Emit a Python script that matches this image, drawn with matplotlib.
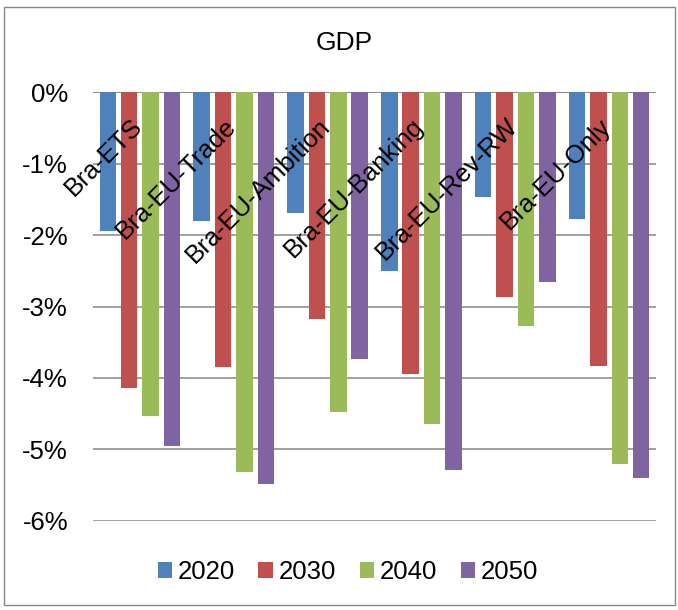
import numpy as np
import matplotlib
matplotlib.use("Agg")
import matplotlib.pyplot as plt
from matplotlib.patches import Rectangle

# GDP change vs. reference, %
scenarios = ["Bra-ETS", "Bra-EU-Trade", "Bra-EU-Ambition",
             "Bra-EU-Banking", "Bra-EU-Rev-RW", "Bra-EU-Only"]
years = ["2020", "2030", "2040", "2050"]
gdp_2020 = [-1.94, -1.80, -1.69, -2.50, -1.47, -1.77]
gdp_2030 = [-4.14, -3.85, -3.18, -3.94, -2.86, -3.83]
gdp_2040 = [-4.53, -5.32, -4.48, -4.64, -3.28, -5.20]
gdp_2050 = [-4.96, -5.48, -3.73, -5.29, -2.66, -5.40]
yticks = [0, -1, -2, -3, -4, -5, -6]

colors = ["#4F81BD", "#C0504D", "#9BBB59", "#8064A2"]

plt.rcParams['font.family'] = ['Liberation Sans', 'DejaVu Sans']
FS = 18.5


def main():
    fig = plt.figure(figsize=(6.78, 6.10), dpi=100)
    ax = fig.add_axes([93/678, 1-520.7/610, (656-93)/678, (520.7-92.3)/610])

    x = np.arange(len(scenarios))
    series = [gdp_2020, gdp_2030, gdp_2040, gdp_2050]
    step = 0.228
    width = 0.176
    for k, (yr, vals) in enumerate(zip(years, series)):
        ax.bar(x + (k - 1.5)*step, np.array(vals)/100, width, color=colors[k],
               label=yr, zorder=3)

    ax.set_xlim(-0.5, len(scenarios) - 0.5)
    ax.set_ylim(-0.06, 0)
    ax.set_yticks([v/100 for v in yticks])
    ax.set_yticklabels(["%d%%" % v for v in yticks], fontsize=FS)
    ax.set_xticks([])
    ax.tick_params(axis='y', length=0, pad=18)
    ax.yaxis.grid(True, color="#878787", lw=1.1, zorder=0)
    for s in ax.spines.values():
        s.set_visible(False)
    ax.axhline(0, color="#878787", lw=1.1, zorder=1)

    # category labels sit just under the zero line, rotated
    for i, name in enumerate(scenarios):
        ax.annotate(name, xy=(i, 0), xytext=(-7, -15.5), textcoords='offset points',
                    rotation=45, ha='right', va='top', rotation_mode='anchor',
                    fontsize=FS, zorder=5)

    fig.text(344/678, 1-43/610, "GDP", ha='center', va='center', fontsize=19)

    fig.legend(loc='center', bbox_to_anchor=(348/678, 1-572/610), ncol=4,
               frameon=False, fontsize=FS, handlelength=0.55, handleheight=0.55,
               handletextpad=0.25, columnspacing=0.9)

    fig.patches.append(Rectangle((4/678, 1-605/610), 671/678, 598/610,
                                 transform=fig.transFigure, fill=False,
                                 edgecolor="#888888", lw=1))

    fig.savefig("out.png", dpi=100)


if __name__ == "__main__":
    main()
